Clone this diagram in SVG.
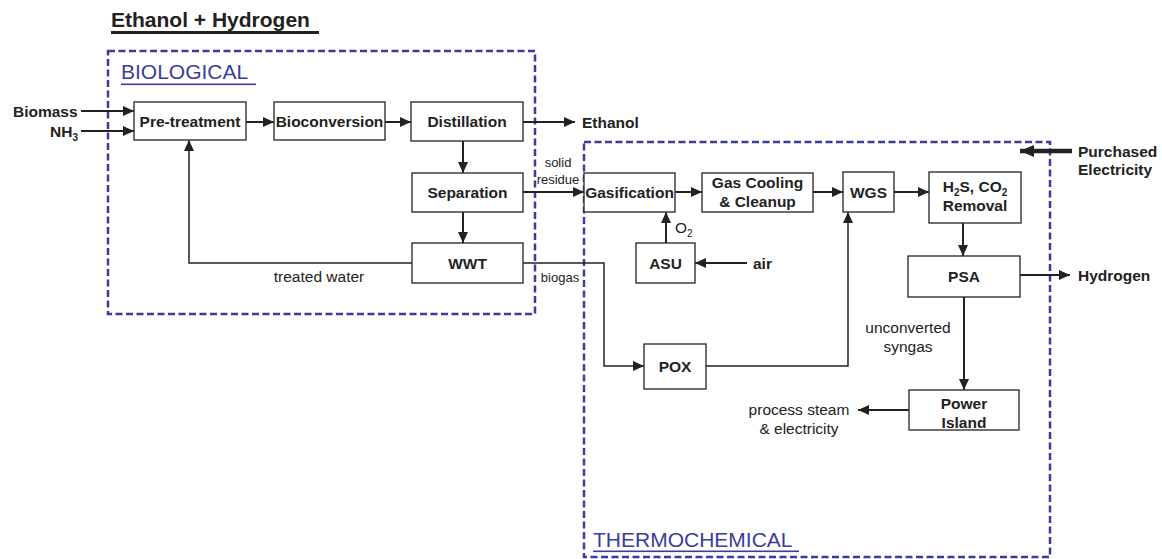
<svg xmlns="http://www.w3.org/2000/svg" width="1162" height="559" viewBox="0 0 1162 559">
<style>
text{font-family:"Liberation Sans",Arial,sans-serif;fill:#222}
.b{font-weight:bold;font-size:15.5px}
.n{font-size:15.5px}
.s{font-size:13px}
.m{text-anchor:middle}
.box{fill:#fff;stroke:#333;stroke-width:1.4}
.c{fill:none;stroke:#222;stroke-width:2}
.t{fill:none;stroke:#222;stroke-width:1.5}
.dash{fill:none;stroke:#3b3d9c;stroke-width:2.5;stroke-dasharray:7,3.5}
.sec{font-size:21px;fill:#3b3d9c}
</style>
<defs>
<marker id="ah" markerUnits="userSpaceOnUse" markerWidth="11" markerHeight="10" refX="11" refY="5" orient="auto">
<path d="M0,0 L11,5 L0,10 z" fill="#222"/>
</marker>
<marker id="ahb" markerUnits="userSpaceOnUse" markerWidth="14" markerHeight="12" refX="14" refY="6" orient="auto">
<path d="M0,0 L14,6 L0,12 z" fill="#222"/>
</marker>
</defs>

<g id="title">
<text x="111" y="27" style="font-size:21px;font-weight:bold">Ethanol + Hydrogen</text>
<rect x="111" y="31" width="208" height="3" fill="#222"/>
</g>

<g id="biological">
<rect class="dash" x="108" y="51" width="427" height="263"/>
<text class="sec" x="121" y="79">BIOLOGICAL</text>
<rect x="121" y="83.5" width="135" height="1.6" fill="#3b3d9c"/>
</g>

<g id="thermochemical">
<rect class="dash" x="584" y="142" width="466" height="415"/>
<text class="sec" x="593" y="547">THERMOCHEMICAL</text>
<rect x="593" y="550.5" width="206" height="1.6" fill="#3b3d9c"/>
</g>

<g id="connectors">
<line class="c" x1="81" y1="111" x2="134" y2="111" marker-end="url(#ah)"/>
<line class="c" x1="81" y1="131" x2="134" y2="131" marker-end="url(#ah)"/>
<line class="c" x1="246" y1="122" x2="274" y2="122" marker-end="url(#ah)"/>
<line class="c" x1="385" y1="122" x2="411" y2="122" marker-end="url(#ah)"/>
<line class="c" x1="523" y1="122" x2="575" y2="122" marker-end="url(#ah)"/>
<line class="c" x1="463" y1="141" x2="463" y2="173" marker-end="url(#ah)"/>
<line class="c" x1="463" y1="212" x2="463" y2="243" marker-end="url(#ah)"/>
<polyline class="t" points="412,263 189,263 189,140" marker-end="url(#ah)"/>
<line class="c" x1="523" y1="192" x2="584" y2="192" marker-end="url(#ah)"/>
<line class="c" x1="675" y1="192" x2="702" y2="192" marker-end="url(#ah)"/>
<line class="c" x1="813" y1="192" x2="843" y2="192" marker-end="url(#ah)"/>
<line class="c" x1="894" y1="192" x2="929" y2="192" marker-end="url(#ah)"/>
<line class="c" x1="963" y1="223" x2="963" y2="256" marker-end="url(#ah)"/>
<line class="c" x1="1020" y1="275" x2="1070" y2="275" marker-end="url(#ah)"/>
<line class="c" x1="964" y1="297" x2="964" y2="390" marker-end="url(#ah)"/>
<line class="c" x1="909" y1="410" x2="858" y2="410" marker-end="url(#ah)"/>
<line class="c" x1="666" y1="243" x2="666" y2="212" marker-end="url(#ah)"/>
<line class="c" x1="747" y1="263" x2="695" y2="263" marker-end="url(#ah)"/>
<polyline class="t" points="523,263 604,263 604,366 644,366" marker-end="url(#ah)"/>
<polyline class="t" points="706,366 848,366 848,212" marker-end="url(#ah)"/>
<line x1="1072" y1="151" x2="1020" y2="151" stroke="#222" stroke-width="4.5" marker-end="url(#ahb)"/>
</g>

<g id="pretreatment"><rect class="box" x="134" y="102" width="112" height="38"/><text class="b m" x="190" y="126.5">Pre-treatment</text></g>
<g id="bioconversion"><rect class="box" x="274" y="102" width="111" height="38"/><text class="b m" x="329.5" y="126.5">Bioconversion</text></g>
<g id="distillation"><rect class="box" x="411" y="102" width="112" height="39"/><text class="b m" x="467" y="127">Distillation</text></g>
<g id="separation"><rect class="box" x="412" y="173" width="111" height="39"/><text class="b m" x="467.5" y="198">Separation</text></g>
<g id="wwt"><rect class="box" x="412" y="243" width="111" height="40"/><text class="b m" x="467.5" y="268.5">WWT</text></g>
<g id="gasification"><rect class="box" x="584" y="173" width="91" height="39"/><text class="b m" x="629.5" y="198">Gasification</text></g>
<g id="gascooling"><rect class="box" x="702" y="173" width="111" height="39"/><text class="b m" x="757.5" y="187.5">Gas Cooling</text><text class="b m" x="757.5" y="206.5">&amp; Cleanup</text></g>
<g id="asu"><rect class="box" x="636" y="243" width="59" height="40"/><text class="b m" x="665.5" y="268.5">ASU</text></g>
<g id="wgs"><rect class="box" x="843" y="172" width="51" height="40"/><text class="b m" x="868.5" y="197.5">WGS</text></g>
<g id="removal"><rect class="box" x="929" y="172" width="92" height="51"/><text class="b m" x="975" y="192">H<tspan font-size="10" dy="4">2</tspan><tspan dy="-4">S, CO</tspan><tspan font-size="10" dy="4">2</tspan></text><text class="b m" x="975" y="211">Removal</text></g>
<g id="psa"><rect class="box" x="908" y="256" width="112" height="41"/><text class="b m" x="964" y="282">PSA</text></g>
<g id="pox"><rect class="box" x="644" y="344" width="62" height="45"/><text class="b m" x="675" y="372">POX</text></g>
<g id="powerisland"><rect class="box" x="909" y="390" width="110" height="40"/><text class="b m" x="964" y="408.5">Power</text><text class="b m" x="964" y="427.5">Island</text></g>

<g id="labels">
<text class="b" x="13" y="116.5">Biomass</text>
<text class="b" x="50" y="136.5">NH<tspan font-size="10" dy="4">3</tspan></text>
<text class="b" x="582" y="127.5">Ethanol</text>
<text class="b" x="1078" y="280.5">Hydrogen</text>
<text class="b" x="753" y="268.5">air</text>
<text class="b" x="1078" y="157">Purchased</text>
<text class="b" x="1078" y="174.5">Electricity</text>
<text class="n" x="675" y="232.5">O<tspan font-size="10" dy="4">2</tspan></text>
<text class="s m" x="558" y="167">solid</text>
<text class="s m" x="558" y="184">residue</text>
<text class="s m" x="560" y="282">biogas</text>
<text class="n m" x="319" y="282">treated water</text>
<text class="n m" x="908" y="333">unconverted</text>
<text class="n m" x="908" y="352">syngas</text>
<text class="n m" x="799" y="414.5">process steam</text>
<text class="n m" x="799" y="433.5">&amp; electricity</text>
</g>
</svg>
